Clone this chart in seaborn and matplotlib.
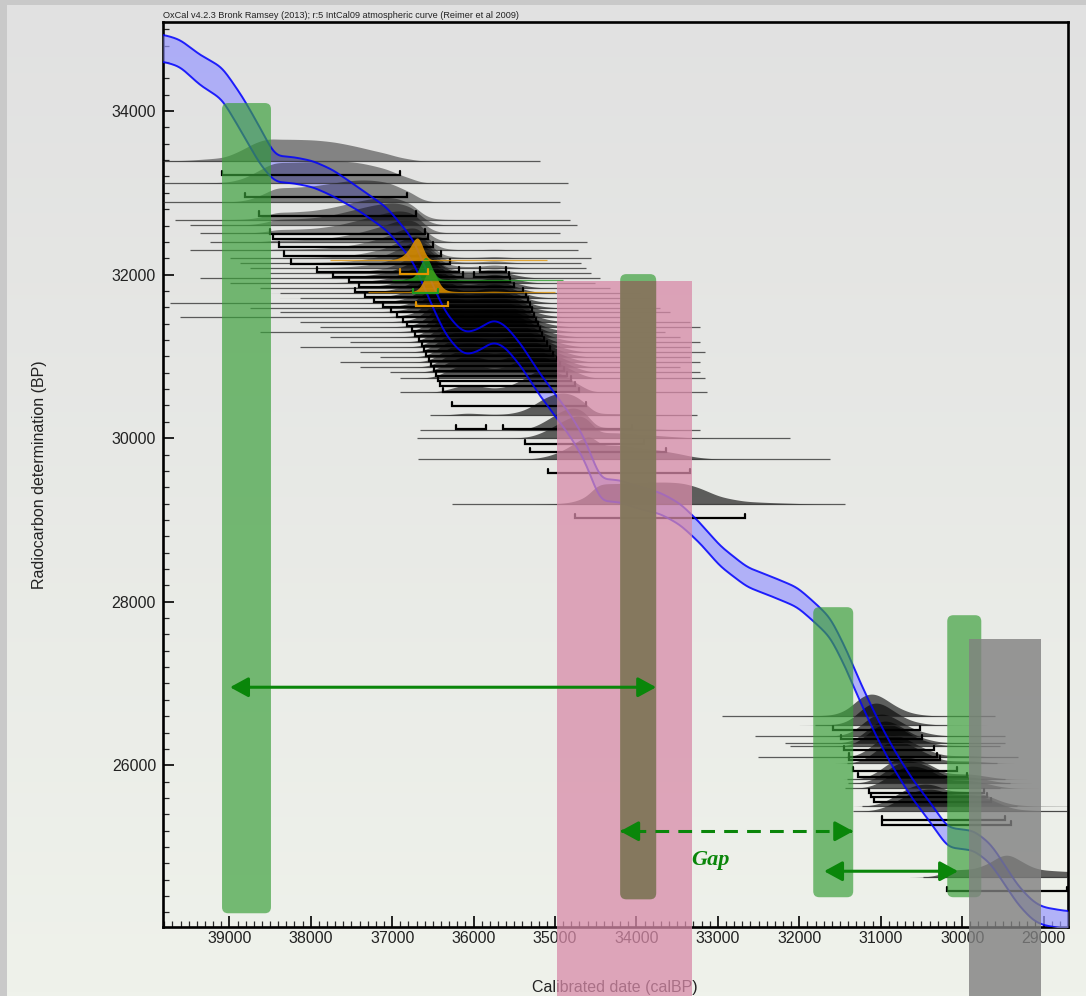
import numpy as np
import matplotlib
matplotlib.use("Agg")
import matplotlib.pyplot as plt
from matplotlib.patches import FancyBboxPatch, Rectangle, ArrowStyle
import seaborn as sns

sns.set_style("ticks")
plt.rcParams['font.family'] = ['Liberation Sans', 'DejaVu Sans']

# ---- IntCal09 atmospheric curve: cal BP, 14C BP, 1-sigma ----
curve_cal = [39815, 39606, 39360, 39090, 38832, 38623, 38439, 38217, 37972, 37726,
             37394, 37063, 36743, 36534, 36350, 36166, 36080, 35920, 35760, 35613,
             35392, 35183, 34999, 34815, 34630, 34446, 34200, 33955, 33709, 33463,
             33217, 32972, 32640, 32321, 32026, 31829, 31620, 31412, 31252, 31043,
             30847, 30601, 30355, 30183, 30023, 29864, 29655, 29495, 29323, 29127,
             29004, 28700]
curve_bp = [34771, 34709, 34501, 34342, 33939, 33572, 33291, 33278, 33229, 33119,
            32911, 32679, 32300, 31810, 31407, 31190, 31150, 31210, 31320, 31250,
            30979, 30648, 30404, 30160, 29853, 29364, 29352, 29266, 29205, 29070,
            28838, 28557, 28300, 28178, 28055, 27884, 27688, 27272, 26893, 26453,
            26086, 25694, 25376, 25120, 25095, 25083, 24924, 24691, 24422, 24214,
            24153, 24104]
curve_err = [165, 165, 185, 195, 225, 225, 160, 160, 160, 160,
             140, 140, 135, 135, 135, 135, 135, 135, 135, 135,
             135, 135, 135, 135, 135, 135, 135, 135, 130, 130,
             125, 125, 120, 120, 120, 120, 120, 120, 120, 120,
             120, 120, 120, 120, 120, 120, 120, 120, 115, 115,
             110, 110]

# ---- radiocarbon determinations (14C BP, error) and drawn baseline extent (cal BP) ----
dates_bp = [33388, 33119, 32887, 32667, 32606, 32508, 32398, 32300, 32202, 32141,
            32080, 32018, 31957, 31896, 31835, 31774, 31713, 31651, 31590, 31541,
            31480, 31419, 31358, 31297, 31236, 31174, 31113, 31052, 30991, 30930,
            30869, 30807, 30734, 30563, 30281, 30098, 30000, 29743, 29193,
            26600, 26490, 26355, 26270, 26233, 26098, 26025, 25829, 25780, 25719,
            25499, 25438, 24630]
dates_err = [460, 430, 410, 390, 390, 380, 380, 370, 370, 370,
             370, 370, 420, 420, 420, 420, 420, 420, 420, 420,
             420, 420, 420, 420, 420, 420, 420, 420, 420, 420,
             420, 420, 420, 380, 380, 330, 360, 380, 420,
             440, 420, 440, 420, 420, 420, 420, 420, 420, 420,
             440, 460, 300]
line_from = [39815, 39815, 39815, 39667, 39483, 39360, 39237, 39483, 38991, 38869,
             38746, 38500, 39360, 38991, 38623, 38377, 38131, 39729, 38746, 38377,
             39606, 38131, 37885, 38623, 37763, 37517, 38131, 37394, 37148, 37640,
             37394, 37026, 36903, 36903, 36534, 36657, 36694, 36682, 36264,
             32949, 31806, 32543, 32174, 32112, 32505, 31412, 31412, 31400, 31436,
             31227, 31338, 30478]
line_to = [35183, 34839, 34937, 34815, 34729, 34937, 34605, 34716, 34556, 34679,
           34618, 34556, 34446, 34507, 34323, 33955, 33832, 34200, 33709, 33586,
           33955, 33340, 33217, 33647, 33463, 33217, 33340, 33155, 33340, 33217,
           33463, 33217, 33155, 33131, 33254, 33217, 32112, 31620, 31436,
           29594, 30183, 29471, 29471, 29532, 29311, 29569, 29471, 29409, 29532,
           29323, 28710, 28710]

# highlighted determinations
hi_bp = [32178, 31786, 31940]
hi_err = [70, 110, 90]
hi_from = [37763, 37300, 37000]
hi_to = [35097, 35000, 34900]
hi_color = ['#e39400', '#e39400', '#1f9a1f']

# ---- annotation layer (cal BP ranges, 14C BP ranges) ----
bar_cal = [(39090, 38489), (34200, 33758), (31829, 31338), (30183, 29765)]
bar_bp = [(24190, 34098), (24361, 32006), (24386, 27933), (24386, 27835)]
pink_cal = (34975, 33317)
pink_top = 31921
grey_cal = (29913, 29028)
grey_top = 27541
arrow_solid = [((38992, 26954), (33758, 26954)), ((31696, 24704), (30050, 24704))]
arrow_dash = ((34200, 25193), (31338, 25193))
gap_pos = (33096, 24838)

XLIM = (39815, 28700)
YLIM = (24022, 35089)

W, H = 1086, 996
fig = plt.figure(figsize=(W / 100, H / 100), dpi=100)

# background gradient and frame strips
bg = fig.add_axes([0, 0, 1, 1], zorder=-10)
top_c = np.array([225, 225, 225]) / 255
bot_c = np.array([239, 242, 235]) / 255
t = np.linspace(0, 1, 256)[:, None, None]
grad = top_c * (1 - t) + bot_c * t
bg.imshow(np.repeat(grad, 4, axis=1), aspect='auto', extent=[0, 1, 0, 1], origin='upper')
bg.add_patch(Rectangle((0, 0), 7 / W, 1, color='#c9c9c9', lw=0))
bg.add_patch(Rectangle((0, 1 - 5 / H), 1, 5 / H, color='#c9c9c9', lw=0))
bg.set_xlim(0, 1)
bg.set_ylim(0, 1)
bg.axis('off')

ax = fig.add_axes([163 / W, 1 - 927 / H, (1068 - 163) / W, (927 - 22) / H])
ax.set_facecolor('none')
ax.set_xlim(*XLIM)
ax.set_ylim(*YLIM)

# curve on a fine calendar grid, lightly smoothed between the tabulated knots
grid = np.arange(28700, 39816, 5.0)
c_cal = np.array(curve_cal, float)[::-1]


def smooth(v, width=12):
    k = np.exp(-0.5 * (np.arange(-3 * width, 3 * width + 1) / width) ** 2)
    k /= k.sum()
    pad = np.pad(v, 3 * width, mode='edge')
    return np.convolve(pad, k, mode='valid')


mu = smooth(np.interp(grid, c_cal, np.array(curve_bp, float)[::-1]))
sg = smooth(np.interp(grid, c_cal, np.array(curve_err, float)[::-1]))


def calibrate(m, s):
    tot = s ** 2 + sg ** 2
    p = np.exp(-0.5 * (m - mu) ** 2 / tot) / np.sqrt(tot)
    return p / p.max()


def hpd(p, level=0.954):
    order = np.argsort(p)[::-1]
    c = np.cumsum(p[order])
    c /= c[-1]
    keep = np.zeros(p.size, bool)
    keep[order[:np.searchsorted(c, level) + 1]] = True
    idx = np.flatnonzero(keep)
    split = np.flatnonzero(np.diff(idx) > 6)
    starts = np.r_[idx[0], idx[split + 1]]
    ends = np.r_[idx[split], idx[-1]]
    return [(grid[a], grid[b]) for a, b in zip(starts, ends)]


HUMP = 270.0     # height of a normalised distribution, in 14C years
BR_OFF = 170.0   # bracket offset below the baseline
BR_TICK = 55.0


def draw_date(m, s, lo, hi, color, alpha, z, br_color):
    p = calibrate(m, s)
    ax.plot([lo, hi], [m, m], color='#2a2a2a' if color == 'black' else color,
            lw=0.9, alpha=0.75, zorder=z + 0.1, solid_capstyle='butt')
    ax.fill_between(grid, m, m + HUMP * p, where=p > 0.002, color=color,
                    alpha=alpha, lw=0, zorder=z)
    y0 = m - BR_OFF
    for a, b in hpd(p):
        ax.plot([a, a, b, b], [y0 + BR_TICK, y0, y0, y0 + BR_TICK], color=br_color,
                lw=1.6, zorder=z + 0.5, solid_joinstyle='miter')


# calibration curve band
ax.fill_between(grid, mu - sg, mu + sg, color='#9898ff', alpha=0.7, lw=0, zorder=2.8)

# the older, sparser determinations are drawn lighter than the dense cluster
for m, s, lo, hi in zip(dates_bp, dates_err, line_from, line_to):
    draw_date(m, s, lo, hi, 'black', 0.42 if m > 32000 else 0.6, 3, 'black')

for edge in (mu + sg, mu - sg):
    sns.lineplot(x=grid, y=edge, ax=ax, color='#0000ff', lw=1.4,
                 alpha=0.85, zorder=4.1, estimator=None, sort=False)

for m, s, lo, hi, col in zip(hi_bp, hi_err, hi_from, hi_to, hi_color):
    draw_date(m, s, lo, hi, col, 0.85, 4.5, col)

# green phase bars
for (c0, c1), (b0, b1) in zip(bar_cal, bar_bp):
    ax.add_patch(FancyBboxPatch((min(c0, c1), b0), abs(c1 - c0), b1 - b0,
                                boxstyle="round,pad=0,rounding_size=75",
                                mutation_aspect=1.0, fc='#3a9f3a', ec='none',
                                alpha=0.68, zorder=6))

# pink and grey ranges running off the bottom
BOTTOM = 23000
ax.add_patch(Rectangle((min(pink_cal), BOTTOM), abs(pink_cal[1] - pink_cal[0]),
                       pink_top - BOTTOM, fc='#d88ba9', ec='none', alpha=0.75,
                       zorder=7, clip_on=False))
c0, c1 = bar_cal[1]
b0, b1 = bar_bp[1]
olive = FancyBboxPatch((min(c0, c1), b0), abs(c1 - c0), b1 - b0,
                       boxstyle="round,pad=0,rounding_size=75", mutation_aspect=1.0,
                       fc='#7f7558', ec='none', alpha=0.9, zorder=7.5)
ax.add_patch(olive)
olive.set_clip_path(Rectangle((min(pink_cal), BOTTOM), abs(pink_cal[1] - pink_cal[0]),
                              pink_top - BOTTOM, transform=ax.transData))
ax.add_patch(Rectangle((min(grey_cal), BOTTOM), abs(grey_cal[1] - grey_cal[0]),
                       grey_top - BOTTOM, fc='#808080', ec='none', alpha=0.8,
                       zorder=8, clip_on=False))

# arrows
GREEN = '#0a860a'
head = dict(head_length=0.55, head_width=0.3)
for (p0, p1) in arrow_solid:
    ax.annotate('', xy=p1, xytext=p0,
                arrowprops=dict(arrowstyle=ArrowStyle('<|-|>', **head),
                                color=GREEN, lw=2.2, mutation_scale=20,
                                shrinkA=0, shrinkB=0), zorder=9)
(d0, d1) = arrow_dash
ax.plot([d0[0] - 150, d1[0] + 150], [d0[1], d1[1]], color=GREEN, lw=2.2,
        ls=(0, (4.5, 3)), zorder=9)
for tip, tail in ((d0, (d0[0] - 40, d0[1])), (d1, (d1[0] + 40, d1[1]))):
    ax.annotate('', xy=tip, xytext=tail,
                arrowprops=dict(arrowstyle=ArrowStyle('-|>', **head),
                                color=GREEN, lw=2.2, mutation_scale=20,
                                shrinkA=0, shrinkB=0), zorder=9)
ax.text(gap_pos[0], gap_pos[1], 'Gap', color=GREEN, fontsize=16, fontweight='bold',
        fontstyle='italic', family=['Liberation Serif', 'DejaVu Serif'],
        ha='center', va='center', zorder=9)

# axes styling
ax.set_xticks(np.arange(29000, 39001, 1000))
ax.set_xticks(np.arange(28800, 39801, 100), minor=True)
ax.set_yticks(np.arange(26000, 34001, 2000))
ax.set_yticks(np.arange(24200, 35001, 200), minor=True)
ax.tick_params(which='major', direction='in', length=8, width=1.2, colors='black',
               labelsize=11.5, labelcolor='#222222', top=False, right=False)
ax.tick_params(which='minor', direction='in', length=4, width=0.9, top=False, right=False)
ax.tick_params(axis='x', pad=3)
ax.tick_params(axis='y', pad=5)
for sp in ax.spines.values():
    sp.set_linewidth(1.9)
    sp.set_color('black')
    sp.set_visible(True)

ax.text(40 / W, 1 - 475 / H, 'Radiocarbon determination (BP)', transform=fig.transFigure,
        rotation=90, ha='center', va='center', fontsize=11.5, color='#222222',
        clip_on=False, zorder=2)
ax.text(615 / W, 1 - 992 / H, 'Calibrated date (calBP)', transform=fig.transFigure,
        ha='center', va='baseline', fontsize=11.5, color='#222222', clip_on=False, zorder=2)
fig.text(163 / W, 1 - 16 / H,
         'OxCal v4.2.3 Bronk Ramsey (2013); r:5 IntCal09 atmospheric curve (Reimer et al 2009)',
         fontsize=6.6, color='#222222', ha='left', va='center')

fig.savefig('out.png', dpi=100)
